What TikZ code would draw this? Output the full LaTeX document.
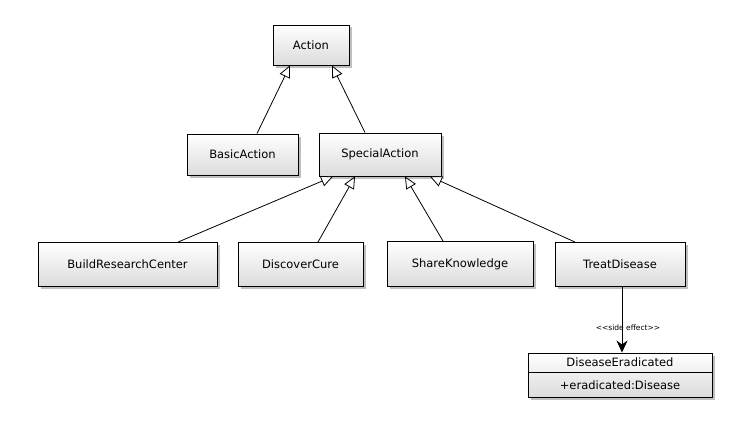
\documentclass[tikz,border=0pt]{standalone}
\usepackage{fontspec}
\setmainfont{DejaVu Sans}
\usetikzlibrary{arrows.meta,shadows}
\begin{document}
\begin{tikzpicture}[x=1pt,y=-1pt,
  cls/.style={draw=black, line width=0.9pt, top color=white, bottom color=black!14,
    drop shadow={shadow xshift=2.5pt, shadow yshift=-2.5pt, opacity=0.25, fill=black},
    font=\fontsize{11.5}{13}\selectfont, inner sep=0pt, anchor=center},
  inh/.style={draw=black, line width=0.8pt, -{Triangle[open, length=12pt, width=11pt, fill=white]}},
  dep/.style={draw=black, line width=1pt, -{Stealth[length=12pt, width=11pt]}}]
\useasboundingbox (0,0) rectangle (749,420);
\node[cls, minimum width=76pt, minimum height=40pt] (action) at (311,45) {Action};
\node[cls, minimum width=111pt, minimum height=41pt] (basic) at (242.5,154.5) {BasicAction};
\node[cls, minimum width=122pt, minimum height=43pt] (special) at (380,154.5) {SpecialAction};
\node[cls, minimum width=179pt, minimum height=44pt] (build) at (127.5,264.5) {BuildResearchCenter};
\node[cls, minimum width=125pt, minimum height=44pt] (cure) at (300.5,264.5) {DiscoverCure};
\node[cls, minimum width=146pt, minimum height=45pt] (share) at (460,264) {ShareKnowledge};
\node[cls, minimum width=130pt, minimum height=44pt] (treat) at (620,264.5) {TreatDisease};
\node[cls, minimum width=184pt, minimum height=44pt] (erad) at (620,375) {};
\node[font=\fontsize{11.5}{13}\selectfont] (eradname) at (620,362.5) {DiseaseEradicated};
\node[font=\fontsize{11.5}{13}\selectfont] (eradattr) at (620,385) {+eradicated:Disease};
\draw[line width=0.9pt] (erad.west |- 0,372) coordinate (dl) -- (erad.east |- 0,372) coordinate (dr);
\draw[inh] ([xshift=14.5pt]basic.north) -- ([xshift=-21pt]action.south);
\draw[inh] ([xshift=-15pt]special.north) -- ([xshift=21pt]action.south);
\draw[inh] ([xshift=50.5pt]build.north) -- ([xshift=-47pt]special.south);
\draw[inh] ([xshift=17.5pt]cure.north) -- ([xshift=-25pt]special.south);
\draw[inh] ([xshift=-17pt]share.north) -- ([xshift=25pt]special.south);
\draw[inh] ([xshift=-45pt]treat.north) -- ([xshift=50pt]special.south);
\draw[dep] ([xshift=2pt]treat.south) -- ([xshift=2pt]erad.north)
  node[pos=0.62, inner sep=1pt, font=\fontsize{7.5}{8}\selectfont, xshift=6pt] (lbl) {{<}{<}side effect{>}{>}};
\end{tikzpicture}
\end{document}
